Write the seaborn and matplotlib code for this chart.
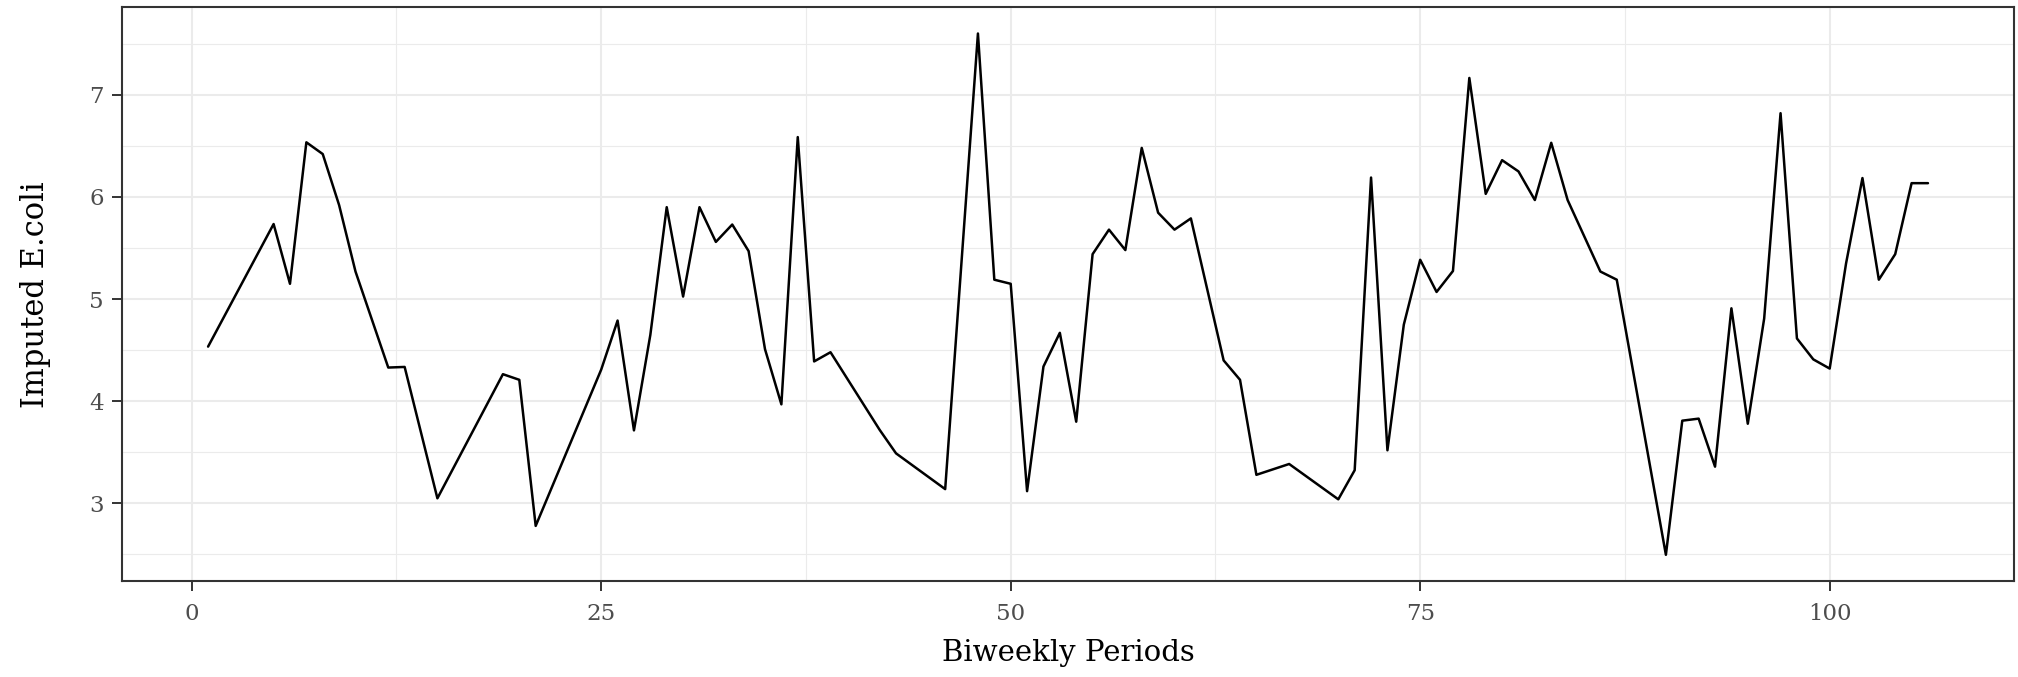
import matplotlib
matplotlib.use("Agg")
import matplotlib.pyplot as plt
import seaborn as sns
import pandas as pd
from matplotlib.ticker import FixedLocator

periods = [1, 5, 6, 7, 8, 9, 10, 12, 13, 15, 19, 20, 21, 25, 26, 27, 28, 29, 30,
           31, 32, 33, 34, 35, 36, 37, 38, 39, 42, 43, 46, 48, 49, 50, 51, 52, 53,
           54, 55, 56, 57, 58, 59, 60, 61, 63, 64, 65, 67, 70, 71, 72, 73, 74, 75,
           76, 77, 78, 79, 80, 81, 82, 83, 84, 86, 87, 90, 91, 92, 93, 94, 95, 96,
           97, 98, 99, 100, 101, 102, 103, 104, 105, 106]
ecoli = [4.535, 5.735, 5.15, 6.535, 6.42, 5.92, 5.27, 4.33, 4.336, 3.05, 4.265, 4.21,
         2.78, 4.31, 4.79, 3.715, 4.65, 5.90, 5.025, 5.90, 5.56, 5.73, 5.47, 4.51,
         3.97, 6.586, 4.39, 4.48, 3.72, 3.49, 3.14, 7.60, 5.19, 5.15, 3.12, 4.34,
         4.67, 3.80, 5.44, 5.68, 5.48, 6.48, 5.846, 5.68, 5.79, 4.40, 4.21, 3.28,
         3.386, 3.04, 3.325, 6.19, 3.52, 4.75, 5.385, 5.07, 5.275, 7.165, 6.03,
         6.36, 6.25, 5.97, 6.53, 5.97, 5.27, 5.19, 2.497, 3.81, 3.83, 3.36, 4.91,
         3.78, 4.81, 6.82, 4.615, 4.41, 4.32, 5.35, 6.185, 5.19, 5.44, 6.135, 6.135]

x_major = [0, 25, 50, 75, 100]
x_minor = [12.5, 37.5, 62.5, 87.5]
y_major = [3, 4, 5, 6, 7]
y_minor = [2.5, 3.5, 4.5, 5.5, 6.5, 7.5]

df = pd.DataFrame({"Biweekly Periods": periods, "Imputed E.coli": ecoli})

sns.set_theme(style="white")
plt.rcParams['font.family'] = ['DejaVu Serif']

fig = plt.figure(figsize=(20.18, 6.77), dpi=100)
ax = fig.add_axes([0.0605, 0.142, 0.9375, 0.847])

sns.lineplot(data=df, x="Biweekly Periods", y="Imputed E.coli", ax=ax,
             color="black", linewidth=1.8, zorder=3)

xmin, xmax = min(periods), max(periods)
ymin, ymax = min(ecoli), max(ecoli)
xr, yr = xmax - xmin, ymax - ymin
ax.set_xlim(xmin - 0.05 * xr, xmax + 0.05 * xr)
ax.set_ylim(ymin - 0.05 * yr, ymax + 0.05 * yr)

ax.xaxis.set_major_locator(FixedLocator(x_major))
ax.xaxis.set_minor_locator(FixedLocator(x_minor))
ax.yaxis.set_major_locator(FixedLocator(y_major))
ax.yaxis.set_minor_locator(FixedLocator(y_minor))

ax.grid(which="major", color="#EBEBEB", linewidth=1.5, zorder=0)
ax.grid(which="minor", color="#EBEBEB", linewidth=0.8, zorder=0)
ax.set_axisbelow(True)

for s in ax.spines.values():
    s.set_color("#333333")
    s.set_linewidth(1.5)

ax.tick_params(which="major", direction="out", length=7, width=1.4, color="#333333",
               labelsize=16.5, labelcolor="#4D4D4D", bottom=True, left=True)
ax.tick_params(axis="x", which="major", pad=9)
ax.tick_params(axis="y", which="major", pad=6)
ax.tick_params(which="minor", length=0)

ax.set_xlabel("Biweekly Periods", fontsize=21, color="black", labelpad=10)
ax.set_ylabel("Imputed E.coli", fontsize=22, color="black", labelpad=28)

fig.savefig("out.png", dpi=100, facecolor="white")
